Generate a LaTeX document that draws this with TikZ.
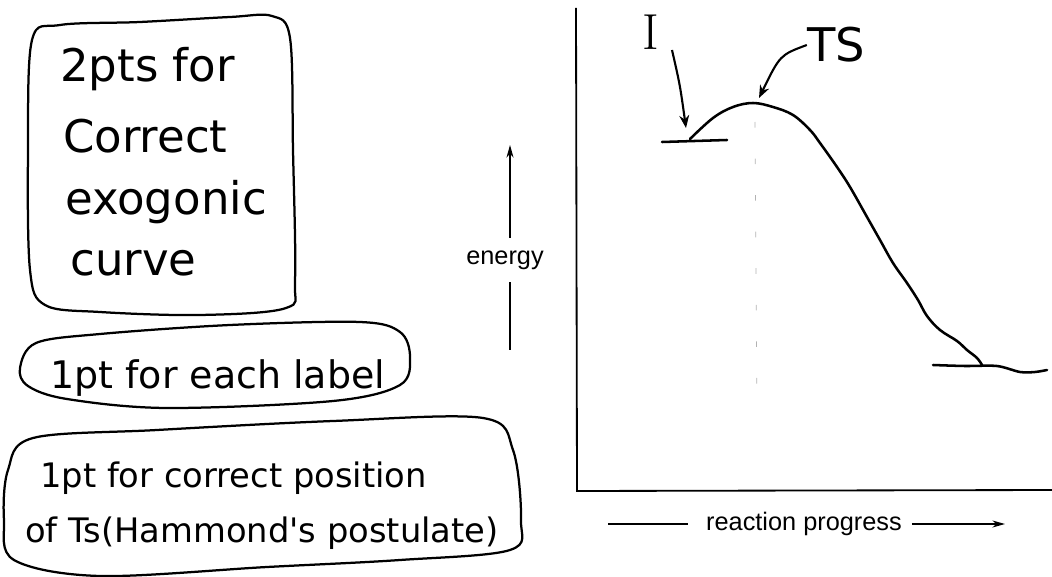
\documentclass[tikz,border=0pt]{standalone}
\usepackage{fontspec}
\newfontfamily\handfont{DejaVu Sans}
\newfontfamily\printfont{Liberation Sans}
\usetikzlibrary{arrows.meta,positioning}

\begin{document}
\begin{tikzpicture}[
  x=0.025cm, y=-0.025cm,
  hand/.style={anchor=base west, inner sep=0pt,
               font=\handfont\fontsize{32}{38}\selectfont},
  handsmall/.style={hand, font=\handfont\fontsize{24}{29}\selectfont},
  outline/.style={line width=1.6pt, line join=round},
  axis/.style={line width=1.3pt},
  curve/.style={line width=1.8pt, line cap=round, line join=round},
  arrow/.style={-{Stealth[length=9pt,width=7pt]}, line width=1.5pt},
  thinarrow/.style={-{Stealth[length=9pt,width=5pt]}, line width=0.9pt},
  printed/.style={font=\printfont\fontsize{18}{22}\selectfont}
]
\useasboundingbox (0,0) rectangle (1052,577);

% grading notes
\draw[outline] plot[smooth cycle, tension=0.55] coordinates {
  (32,40) (60,25) (140,22) (230,17) (272,16) (290,38) (293,150)
  (295,280) (286,308) (200,315) (100,312) (45,305) (30,270) (28,150)};
\node[hand] (n1) at (60,82)  {2pts for};
\node[hand] (n2) at (63,153) {Correct};
\node[hand] (n3) at (65,215) {exogonic};
\node[hand] (n4) at (70,275) {curve};

\draw[outline] plot[smooth cycle, tension=0.55] coordinates {
  (20,368) (36,343) (100,334) (230,325) (360,322) (400,332) (410,357)
  (400,385) (333,401) (167,408) (67,399) (28,386)};
\node[hand, font=\handfont\fontsize{27}{32}\selectfont] (n5) at (50,388) {1pt for each label};

\draw[outline] plot[smooth cycle, tension=0.55] coordinates {
  (8,470) (33,438) (157,430) (333,421) (483,418) (513,450) (521,520)
  (510,550) (400,560) (267,567) (100,576) (14,560) (4,520)};
\node[handsmall] (n6) at (40,487) {1pt for correct position};
\node[handsmall] (n7) at (25,542) {of Ts(Hammond's postulate)};

% axes
\coordinate (origin) at (577,491);
\coordinate (ytop)   at (576,8);
\coordinate (xend)   at (1052,490);
\draw[axis] (ytop) -- (origin) -- (xend);

\node[printed, inner sep=9pt] (energy) at (505,260) {energy};
\coordinate (etip) at (510,145);
\coordinate (ebot) at (510,350);
\draw[thinarrow] (energy.north -| etip) -- (etip);
\draw[line width=0.9pt] (energy.south -| ebot) -- (ebot);

\node[printed, inner sep=5pt] (progress) at (804,524) {reaction progress};
\coordinate (pstart) at (608,524);
\coordinate (ptip)   at (1005,524);
\draw[line width=0.9pt, shorten >=8pt] (pstart) -- (progress.west);
\draw[thinarrow, shorten <=2pt] (progress.east) -- (ptip);

% energy profile
\draw[curve] (662,142) -- (727,140);
\draw[curve] plot[smooth, tension=0.6] coordinates {
  (690,139) (713,118) (733,107) (753,103) (773,107) (793,115) (810,130)
  (820,143) (837,167) (850,187) (867,217) (880,240) (893,263) (907,283)
  (918,300) (927,316) (940,330) (957,341) (967,350) (977,358) (982,365)};
\draw[curve] plot[smooth, tension=0.5] coordinates {
  (933,365) (965,366) (997,366) (1020,372) (1035,372) (1047,370)};
\draw[gray!60, line width=0.6pt, dash pattern=on 4pt off 22pt]
  (755,122) -- (757,410);

% labels
\node[font=\fontsize{36}{40}\selectfont, inner sep=0pt] (ilabel) at (651,32) {I};
\coordinate (itip) at (686,128);
\draw[arrow] (672,50) .. controls (680,85) .. (itip);

\node[hand, anchor=center, font=\handfont\fontsize{33}{38}\selectfont] (tslabel) at (836,45) {TS};
\coordinate (tstip) at (759,98);
\draw[arrow] (tslabel.west) .. controls (780,55) .. (tstip);
\end{tikzpicture}
\end{document}
